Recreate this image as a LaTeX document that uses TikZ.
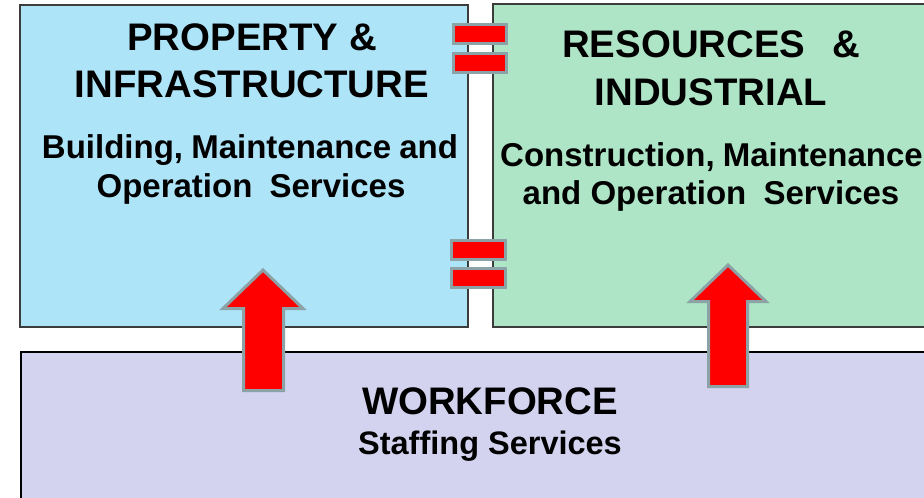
\documentclass[tikz,border=0pt]{standalone}
\usepackage{fontspec}
\setmainfont{Liberation Sans}
\definecolor{boxblue}{HTML}{ADE4F8}
\definecolor{boxgreen}{HTML}{ADE5C6}
\definecolor{boxpurple}{HTML}{D3D3EF}
\definecolor{rimgray}{HTML}{8BA3A6}
\definecolor{edgegray}{HTML}{3C3C3C}
\begin{document}
\begin{tikzpicture}[x=1pt,y=-1pt,
  panel/.style={draw=edgegray,line width=1.2pt},
  bar/.style={draw=rimgray,fill=red,line width=3pt,line join=miter},
  uparrow/.style={draw=rimgray,fill=red,line width=3pt,line join=miter},
  title/.style={inner sep=0pt,anchor=base,font=\bfseries\fontsize{38.4}{40}\selectfont},
  sub/.style={inner sep=0pt,anchor=base,font=\bfseries\fontsize{33}{34}\selectfont},
  sub2/.style={inner sep=0pt,anchor=base,font=\bfseries\fontsize{32.5}{34}\selectfont}]
\useasboundingbox (0,0) rectangle (924,498);
% panels
\draw[panel,fill=boxblue] (20,5) rectangle (468,327);
\draw[panel,fill=boxgreen] (493,4) rectangle (940,327);
\draw[panel,draw=black,fill=boxpurple] (21,352) rectangle (940,510);
% texts left
\node[title] (pt1) at (252,50.5) {PROPERTY \&};
\node[title] (pt2) at (252,97.5) {INFRASTRUCTURE};
\node[sub] (ps1) at (250,158.5) {Building,\hspace{-1pt} Maintenance\hspace{-1pt} and};
\node[sub] (ps2) at (251,197.5) {Operation\hspace{8pt} Services};
% texts right
\node[title] (rt1) at (711,57) {RESOURCES\hspace{16pt} \&};
\node[title] (rt2) at (711,105.5) {INDUSTRIAL};
\node[sub] (rs1) at (711.5,166) {Construction,\hspace{-1pt} Maintenance};
\node[sub] (rs2) at (711,204.5) {and Operation\hspace{8pt} Services};
% workforce
\node[title] (wt1) at (490,414.5) {WORKFORCE};
\node[sub2] (wt2) at (490,454) {Staffing Services};
% equals signs
\draw[bar] (453.5,24.5) rectangle (506.5,43.5);
\draw[bar] (453.5,53.5) rectangle (506.5,72.5);
\draw[bar] (451.5,240.5) rectangle (505.5,259.5);
\draw[bar] (451.5,268.5) rectangle (505.5,287.5);
% arrows
\draw[uparrow] (263,270) -- (303,308.5) -- (283.5,308.5) -- (283.5,390.5)
  -- (243.5,390.5) -- (243.5,308.5) -- (223,308.5) -- cycle;
\draw[uparrow] (728,265) -- (766,301.5) -- (747.5,301.5) -- (747.5,386.5)
  -- (708.5,386.5) -- (708.5,301.5) -- (690,301.5) -- cycle;
\end{tikzpicture}
\end{document}
